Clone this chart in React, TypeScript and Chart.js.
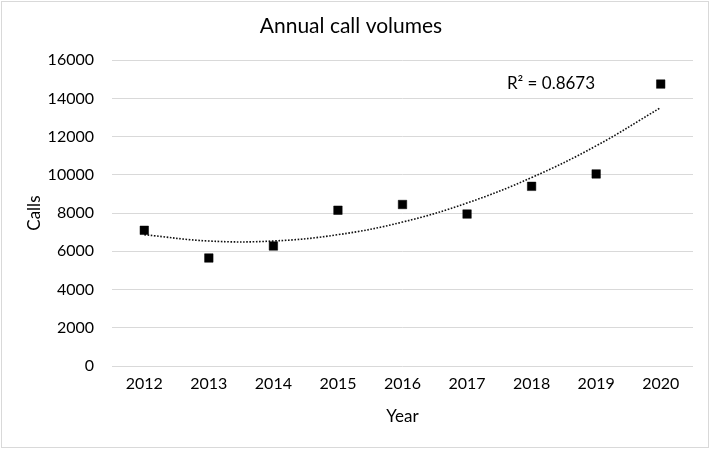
import React, { useEffect, useRef } from "react";
import { Chart, registerables } from "chart.js";

Chart.register(...registerables);

const years = ["2012", "2013", "2014", "2015", "2016", "2017", "2018", "2019", "2020"];
const calls = [7100, 5650, 6280, 8150, 8450, 7950, 9400, 10050, 14750];
const trend = [6870, 6540, 6540, 6870, 7530, 8530, 9860, 11520, 13520];
const yTicksMin = 0;
const yTicksMax = 16000;
const yStep = 2000;
const titleText = "Annual call volumes";
const xTitle = "Year";
const yTitle = "Calls";
const r2Label = "R² = 0.8673";

const FONT = "Lato, 'Open Sans', 'Liberation Sans', sans-serif";

const r2Plugin = {
  id: "r2label",
  afterDatasetsDraw(chart: any) {
    const { ctx, scales } = chart;
    const x = scales.x.getPixelForValue(6.3);
    const y = scales.y.getPixelForValue(14800);
    ctx.save();
    ctx.font = `17px ${FONT}`;
    ctx.fillStyle = "#000";
    ctx.textAlign = "center";
    ctx.textBaseline = "middle";
    ctx.fillText(r2Label, x, y);
    ctx.restore();
  },
};

const bgPlugin = {
  id: "bg",
  beforeDraw(chart: any) {
    const { ctx, width, height } = chart;
    ctx.save();
    ctx.fillStyle = "#fff";
    ctx.fillRect(0, 0, width, height);
    ctx.restore();
  },
};

export default function App() {
  const ref = useRef<HTMLCanvasElement>(null);
  useEffect(() => {
    document.body.style.margin = "0";
    const chart = new Chart(ref.current as HTMLCanvasElement, {
      type: "line",
      data: {
        labels: years,
        datasets: [
          {
            label: "Calls",
            data: calls,
            showLine: false,
            pointStyle: "rect",
            pointRadius: 6,
            pointBackgroundColor: "#000",
            pointBorderColor: "#000",
            pointBorderWidth: 0.5,
            order: 0,
          },
          {
            label: "Trend",
            data: trend,
            borderColor: "#111",
            borderWidth: 1.6,
            borderDash: [1.6, 1.6],
            pointRadius: 0,
            tension: 0.4,
            fill: false,
            order: 1,
          },
        ],
      },
      options: {
        responsive: false,
        animation: false,
        devicePixelRatio: 1,
        layout: { padding: { left: 9, right: 18, top: 0, bottom: 0 } },
        plugins: {
          legend: { display: false },
          tooltip: { enabled: false },
          title: {
            display: true,
            text: titleText,
            color: "#000",
            font: { family: FONT, size: 21, weight: "normal" },
            padding: { top: 14, bottom: 21 },
          },
        },
        scales: {
          x: {
            type: "category",
            offset: true,
            grid: { display: false, drawTicks: false },
            border: { display: false },
            ticks: {
              color: "#000",
              font: { family: FONT, size: 16 },
              padding: 8,
              maxRotation: 0,
            },
            title: {
              display: true,
              text: xTitle,
              color: "#000",
              font: { family: FONT, size: 17 },
              padding: { top: 0, bottom: 22 },
            },
            afterFit(scale: any) {
              scale.height = 83;
            },
          },
          y: {
            min: yTicksMin,
            max: yTicksMax,
            grid: { color: "#d9d9d9", lineWidth: 1, drawTicks: false },
            border: { display: false },
            ticks: {
              stepSize: yStep,
              color: "#000",
              font: { family: FONT, size: 16 },
              padding: 18,
              callback: (v: any) => String(v),
            },
            title: {
              display: true,
              text: yTitle,
              color: "#000",
              font: { family: FONT, size: 17 },
              padding: { top: 15, bottom: 0 },
            },
            afterFit(scale: any) {
              scale.width = 103;
            },
          },
        },
      },
      plugins: [bgPlugin, r2Plugin],
    });
    return () => chart.destroy();
  }, []);
  return (
    <div style={{ position: "fixed", left: 0, top: 0, width: 711, height: 449, background: "#fff" }}>
      <canvas ref={ref} width={711} height={449} style={{ display: "block" }} />
      <div
        style={{
          position: "absolute",
          left: 1,
          top: 1,
          width: 706,
          height: 445,
          border: "1px solid #d9d9d9",
          pointerEvents: "none",
        }}
      />
    </div>
  );
}
